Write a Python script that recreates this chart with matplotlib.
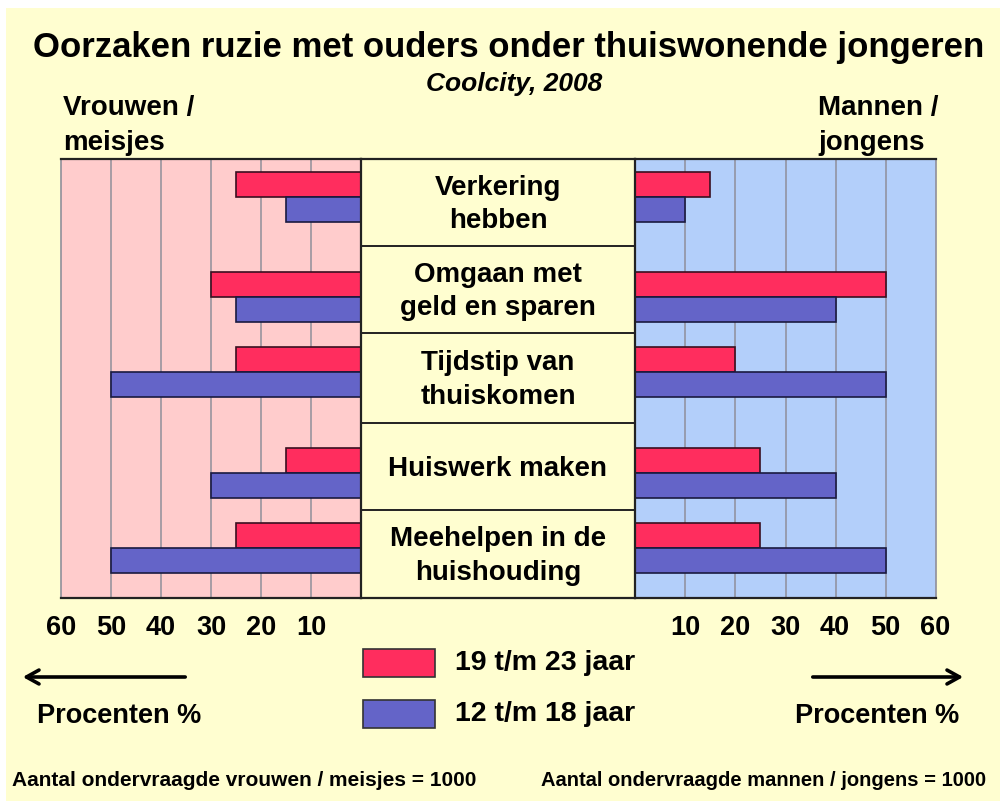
import matplotlib
matplotlib.use("Agg")
import matplotlib.pyplot as plt
from matplotlib.patches import Rectangle

plt.rcParams['font.family'] = ['Liberation Sans', 'DejaVu Sans']

# data
oorzaken = ["Verkering\nhebben", "Omgaan met\ngeld en sparen", "Tijdstip van\nthuiskomen",
            "Huiswerk maken", "Meehelpen in de\nhuishouding"]
vrouwen_19_23 = [25, 30, 25, 15, 25]
vrouwen_12_18 = [15, 25, 50, 30, 50]
mannen_19_23 = [15, 50, 20, 25, 25]
mannen_12_18 = [10, 40, 50, 40, 50]
ticks = [10, 20, 30, 40, 50, 60]
reeksen = ["19 t/m 23 jaar", "12 t/m 18 jaar"]

# layout (pixels within the panel, from the top)
paneel_h = 439
groep_pos = [38, 138, 213, 314, 389]
rij_grenzen = [0, 87, 174, 264, 351, 439]
bar_h = 25

ROOD = "#FF2D5E"
BLAUW = "#6464C8"
ROZE = "#FFCCCC"
LICHTBLAUW = "#B3CFFA"
CREME = "#FFFED0"

W, H = 1000, 801
fig = plt.figure(figsize=(W / 100, H / 100), dpi=100)
fig.patch.set_facecolor("white")


def px_axes(x0, y0, x1, y1):
    return fig.add_axes([x0 / W, 1 - y1 / H, (x1 - x0) / W, (y1 - y0) / H])


# achtergrond en teksten
bg = px_axes(0, 0, W, H)
bg.set_xlim(0, W)
bg.set_ylim(H, 0)
bg.axis("off")
bg.add_patch(Rectangle((6, 8), W, H, facecolor=CREME, edgecolor="none"))

bg.text(509, 48, "Oorzaken ruzie met ouders onder thuiswonende jongeren",
        fontsize=25, fontweight="bold", ha="center", va="center")
bg.text(514, 84, "Coolcity, 2008", fontsize=19, fontweight="bold", style="italic",
        ha="center", va="center")
bg.text(63, 126, "Vrouwen /\nmeisjes", fontsize=20, fontweight="bold",
        ha="left", va="center", linespacing=1.45)
bg.text(818, 126, "Mannen /\njongens", fontsize=20, fontweight="bold",
        ha="left", va="center", linespacing=1.45)


def paneel(x0, x1, links, kleur, rood, blauw):
    ax = px_axes(x0, 159, x1, 598)
    ax.set_facecolor(kleur)
    ax.set_ylim(paneel_h, 0)
    ax.set_xlim((60, 0) if links else (0, 60))
    for t in ticks[:-1]:
        ax.axvline(t, color="#8f8f9a", lw=1.1, zorder=1)
    for i, y in enumerate(groep_pos):
        ax.barh(y - bar_h / 2, rood[i], height=bar_h, color=ROOD,
                edgecolor="#3a1020", lw=1.2, zorder=2)
        ax.barh(y + bar_h / 2, blauw[i], height=bar_h, color=BLAUW,
                edgecolor="#1a1a40", lw=1.2, zorder=2)
    ax.set_xticks([])
    ax.set_yticks([])
    for s in ["top", "bottom"]:
        ax.spines[s].set_color("#222222")
        ax.spines[s].set_linewidth(1.6)
    for s in ["left", "right"]:
        ax.spines[s].set_color("#8f8f9a")
        ax.spines[s].set_linewidth(1.2)
    return ax


links = paneel(61, 361, True, ROZE, vrouwen_19_23, vrouwen_12_18)
rechts = paneel(635, 936, False, LICHTBLAUW, mannen_19_23, mannen_12_18)

# middelste kolom met oorzaken
mid = px_axes(361, 159, 635, 598)
mid.set_facecolor(CREME)
mid.set_xlim(0, 1)
mid.set_ylim(paneel_h, 0)
mid.set_xticks([])
mid.set_yticks([])
for s in mid.spines.values():
    s.set_color("#222222")
    s.set_linewidth(1.6)
for y in rij_grenzen[1:-1]:
    mid.axhline(y, color="#222222", lw=1.4)
for i, label in enumerate(oorzaken):
    yc = (rij_grenzen[i] + rij_grenzen[i + 1]) / 2
    mid.text(0.5, yc + 2, label, fontsize=20, fontweight="bold", ha="center",
             va="center", linespacing=1.35)

# as-labels
for t in ticks:
    bg.text(361 - t * 5, 628, str(t), fontsize=19.5, fontweight="bold",
            ha="center", va="center")
    bg.text(635 + t * 5, 628, str(t), fontsize=19.5, fontweight="bold",
            ha="center", va="center")

# pijlen
bg.annotate("", xy=(20, 677), xytext=(188, 677),
            arrowprops=dict(arrowstyle="->,head_length=0.9,head_width=0.5", lw=2.6, color="black"))
bg.annotate("", xy=(966, 677), xytext=(810, 677),
            arrowprops=dict(arrowstyle="->,head_length=0.9,head_width=0.5", lw=2.6, color="black"))
bg.text(37, 716, "Procenten %", fontsize=19.5, fontweight="bold", ha="left", va="center")
bg.text(795, 716, "Procenten %", fontsize=19.5, fontweight="bold", ha="left", va="center")

# legenda
for kleur, label, y in zip([ROOD, BLAUW], reeksen, [663, 714]):
    bg.add_patch(Rectangle((363, y - 14), 72, 28, facecolor=kleur,
                           edgecolor="#333333", lw=1.2))
    bg.text(455, y, label, fontsize=20.5, fontweight="bold", ha="left", va="center")

# voetnoten
bg.text(12, 781, "Aantal ondervraagde vrouwen / meisjes = 1000", fontsize=15,
        fontweight="bold", ha="left", va="center")
bg.text(541, 781, "Aantal ondervraagde mannen / jongens = 1000", fontsize=14.5,
        fontweight="bold", ha="left", va="center")

fig.savefig("out.png", dpi=100)
